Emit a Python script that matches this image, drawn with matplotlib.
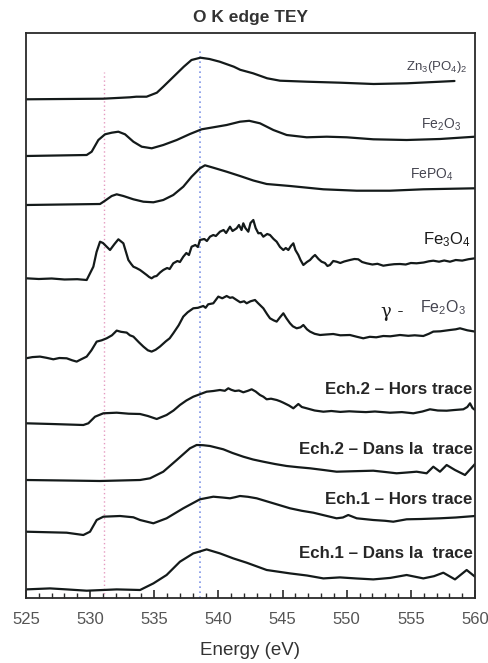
import numpy as np
import matplotlib
matplotlib.use("Agg")
import matplotlib.pyplot as plt

plt.rcParams['font.family'] = ['Liberation Sans', 'DejaVu Sans']
plt.rcParams['mathtext.fontset'] = 'custom'
plt.rcParams['mathtext.rm'] = 'Liberation Sans'
plt.rcParams['mathtext.it'] = 'Liberation Sans:italic'
plt.rcParams['mathtext.bf'] = 'Liberation Sans:bold'

# ---------------- data (energy in eV, intensity in arbitrary units) ----------------
zn_E = [525, 531.0, 533.1, 533.6, 534.4, 535.2, 535.7, 536.5, 537.3, 537.9, 538.6, 539.3,
        540.1, 541.2, 541.7, 542.7, 543.8, 544.8, 546.9, 549.5, 552.1, 554.7, 557.3, 558.4]
zn_I = [0, 0.6, 2, 2.6, 2.6, 6.6, 12.6, 22.6, 32.6, 39.3, 41.6, 40.3,
        37.6, 32.6, 29.5, 26, 21, 18.6, 17.6, 16.6, 15.3, 16, 17.6, 18.3]

fe2o3_E = [525, 529.73, 530.12, 530.64, 531.16, 531.68, 532.2, 532.72, 533.37, 534.02, 534.8,
           535.7, 536.75, 537.78, 538.69, 539.6, 540.64, 541.68, 542.4, 543.24, 544.28,
           545.32, 546.88, 548.44, 550.0, 552.07, 554.67, 557.27, 560]
fe2o3_I = [0, 1, 4.3, 16, 21.7, 23.3, 24.3, 21.7, 14.3, 9.3, 7.7,
           11, 16, 22, 26.7, 28.7, 31, 34.3, 35.2, 32.7, 26,
           21, 18.7, 19.3, 18.7, 16.7, 16, 17, 19.3]

fepo4_E = [525, 530.77, 531.16, 531.68, 532.07, 532.59, 533.37, 534.15, 534.93, 535.7, 536.48,
           537.26, 537.91, 538.56, 538.95, 539.6, 540.64, 541.68, 542.72, 543.76, 545.58,
           548.18, 550.78, 553.37, 555.97, 560]
fepo4_I = [0, 1, 4.3, 9, 10.7, 9, 5.7, 3.3, 2.7, 5, 10,
           18.3, 28.3, 36.7, 39.7, 37.3, 33.3, 29, 24.5, 21, 19,
           15.7, 14.3, 14.3, 15.7, 16.7]

fe3o4_E = [525, 526, 527, 528, 529, 529.73, 530.25, 530.5, 530.77, 531.0, 531.29, 531.55, 531.9,
           532.2, 532.59, 532.98, 533.2, 533.37, 533.6, 533.89, 534.1, 534.41, 534.6, 534.79,
           535.0, 535.18, 535.45, 535.7, 536.0, 536.2, 536.48, 536.8, 537.0, 537.26, 537.5,
           537.7, 537.91, 538.2, 538.4, 538.56, 538.9, 539.1, 539.34, 539.6, 539.8, 540.12,
           540.4, 540.6, 540.9, 541.1, 541.42, 541.6, 541.8, 541.94, 542.1, 542.33, 542.5,
           542.72, 542.9, 543.11, 543.3, 543.5, 543.8, 544.02, 544.3, 544.54, 544.8, 545.06,
           545.25, 545.45, 545.65, 545.84, 546.0, 546.23, 546.4, 546.62, 546.9, 547.14, 547.35,
           547.53, 547.8, 548.04, 548.3, 548.5, 548.69, 548.95, 549.21, 549.5, 549.8, 550.25,
           550.6, 550.9, 551.2, 551.55, 552.0, 552.4, 552.85, 553.3, 553.7, 554.15, 554.6,
           555.0, 555.45, 556.0, 556.4, 556.75, 557.2, 557.6, 558.05, 558.5, 559.0, 559.5, 560]
fe3o4_I = [1.7, 1.0, 1.5, 0.5, 0.8, 0, 13.3, 28, 38.3, 37, 33.3, 30, 36,
           40.7, 36.7, 20, 16, 13.3, 12, 10, 8, 5, 3, 1.7,
           3.5, 4, 7.5, 10, 12, 11, 16.7, 19, 18, 23.3, 27,
           25, 33.3, 35, 33, 40, 41, 39, 43.3, 45, 44, 48.3,
           50, 47, 53.3, 49, 51.7, 55, 50, 56.7, 52, 48.3, 57,
           60, 52, 46.7, 47, 43.3, 46, 45, 41, 38.3, 33, 30,
           32, 30, 34, 36.7, 30, 25, 20, 15, 18, 20, 23,
           25, 21, 18.3, 17, 14, 15, 19, 18.3, 17, 18.5, 20,
           21, 20.7, 18, 16.7, 15.5, 16.2, 14.3, 15.2, 15.8, 16, 15.5,
           17, 16.7, 17.5, 18.7, 19.3, 18.3, 19.5, 18.3, 20, 19.4, 20.8, 21.7]

gfe2o3_E = [525, 525.5, 526.09, 526.6, 527.13, 527.6, 528.17, 528.6, 528.95, 529.3, 529.73,
            530.1, 530.51, 530.9, 531.29, 531.7, 532.07, 532.4, 532.85, 533.1, 533.37, 533.8,
            534.15, 534.5, 534.79, 535.1, 535.44, 535.9, 536.2, 536.48, 536.9, 537.26, 537.6,
            538.04, 538.4, 538.82, 539.0, 539.2, 539.6, 539.99, 540.3, 540.64, 540.9, 541.1,
            541.42, 541.7, 542.0, 542.2, 542.5, 542.85, 543.1, 543.5, 543.8, 544.02, 544.3,
            544.54, 544.8, 545.06, 545.3, 545.58, 545.8, 546.1, 546.4, 546.62, 546.9, 547.14,
            547.5, 547.92, 548.4, 548.95, 549.5, 550.25, 550.8, 551.29, 551.8, 552.3, 552.85,
            553.4, 554.15, 554.8, 555.3, 555.97, 556.4, 556.75, 557.3, 558.05, 558.5, 558.83,
            559.4, 560]
gfe2o3_I = [0, 1.2, 1.7, 0.5, -1, 0.3, 0, -2, -3.3, -1, 1.7,
            8, 16.7, 18, 20, 23, 27.7, 26.5, 25.7, 23, 21.7, 16,
            11.7, 8, 6.7, 8.5, 11.7, 17, 20, 25, 33, 41.7, 46,
            50, 50.5, 52.3, 50.5, 54, 55, 61.7, 60, 62.3, 60.5, 61,
            58.3, 56, 57, 55, 57, 58.3, 55, 50, 44, 40, 38,
            36.7, 41, 45, 40, 35, 32, 30, 31, 33.3, 29, 26.7,
            24.5, 23.3, 23.8, 24.3, 23, 23.3, 21.5, 20, 21.5, 21, 22.3,
            22, 23.3, 22.5, 23, 22.3, 24.5, 26.7, 27, 28.3, 29, 30,
            28, 26.7]

e2h_E = [525, 527, 529.47, 529.86, 530.38, 531.03, 532.07, 533.0, 533.89, 534.5, 535.19,
         535.96, 536.5, 537.0, 537.5, 538.04, 538.5, 539.08, 539.6, 540.12, 540.5, 540.77,
         541.0, 541.29, 541.6, 541.94, 542.3, 542.59, 542.9, 543.24, 543.5, 543.76, 544.1,
         544.54, 544.8, 545.06, 545.5, 545.84, 546.23, 546.5, 546.88, 547.5, 548.18, 548.8,
         549.5, 550.2, 550.78, 551.5, 552.2, 553.37, 554.3, 555.19, 555.9, 556.49, 557.1,
         557.79, 558.4, 559.09, 559.4, 559.61, 559.8, 560]
e2h_I = [1.7, 1.0, 0, 1.7, 8.3, 11.7, 12.3, 11.3, 11, 9, 6,
         10, 14.5, 20, 24.5, 28.3, 30.5, 33.3, 34, 35, 34.2, 36.7,
         35.2, 34, 34.5, 32.7, 34.2, 35.7, 33.5, 30, 28.3, 25.7, 26.3,
         25, 23.8, 22.3, 19.5, 16.7, 21, 18, 16.7, 14.5, 13.3, 14,
         13.1, 13.7, 13.3, 12.9, 13.5, 12.3, 12.9, 11.7, 13.5, 15.7, 14.5,
         14.3, 15, 15.7, 18, 21.7, 17, 15]

e2d_E = [525, 528, 530.77, 533.89, 534.67, 535.7, 536.75, 537.78, 538.3, 538.8, 539.34,
         540.38, 541.1, 541.94, 542.7, 543.5, 544.4, 545.32, 546.2, 547.14, 548.2, 549.21,
         550.6, 552.07, 553.0, 553.89, 554.7, 555.45, 556.23, 556.75, 557.27, 557.79, 558.44,
         559.22, 560]
e2d_I = [1, 0.5, 0, 1, 2.7, 9.3, 21, 32.7, 36, 35.8, 35,
         31.7, 28, 24.3, 21.5, 19.3, 17, 15, 13.8, 12.7, 11, 9.3,
         9.8, 10.3, 9, 7.7, 8.5, 9.3, 7.7, 14.3, 9.3, 16, 11,
         6, 17]

e1h_E = [525, 528.17, 529.47, 529.99, 530.51, 531.03, 532.33, 533.37, 533.89, 534.93, 535.96,
         537.26, 538.56, 539.6, 540.3, 540.9, 541.3, 541.68, 542.3, 542.98, 544.28, 545.58,
         546.5, 547.4, 548.3, 549.21, 549.7, 550.12, 550.78, 552.07, 553.0, 553.63, 554.67,
         555.8, 557.27, 558.5, 560]
e1h_I = [3.3, 2.3, 0, 3.3, 15, 18.3, 19, 17.7, 15, 11.7, 16.7,
         26.7, 35.7, 38.3, 37.5, 36.7, 37.8, 39, 38.2, 36.7, 31.7, 26.7,
         24.2, 22.3, 19.5, 16.7, 17.5, 20, 16.7, 15, 14.2, 13.3, 15.7,
         16, 16.7, 17.5, 19]

e1d_E = [525, 526.87, 528.17, 529.73, 532.07, 533.0, 533.89, 534.93, 535.96, 537.0, 538.04,
         539.08, 540.12, 541.16, 542.2, 543.76, 545.58, 546.9, 548.18, 549.47, 550.8, 552.07,
         553.4, 554.67, 555.97, 556.8, 557.53, 558.44, 559.35, 560]
e1d_I = [1.3, 2.3, 1.3, 0, 1.3, 1.0, 0.7, 7.3, 15.7, 29, 37.3,
         41.3, 37.3, 32.3, 28, 20.7, 17.3, 15.2, 12.3, 13.3, 12.2, 11.3,
         12.8, 15.7, 12.3, 14.5, 18, 11.3, 20.7, 14]

series = [
    (zn_E, zn_I), (fe2o3_E, fe2o3_I), (fepo4_E, fepo4_I), (fe3o4_E, fe3o4_I),
    (gfe2o3_E, gfe2o3_I), (e2h_E, e2h_I), (e2d_E, e2d_I), (e1h_E, e1h_I), (e1d_E, e1d_I),
]
offsets = [498.7, 442, 393, 318, 239.7, 173, 117, 63, 7.3]

xticks = [525, 530, 535, 540, 545, 550, 555, 560]
ref_lines = [531.1, 538.6]

# ---------------- figure ----------------
W, H = 489, 663
fig = plt.figure(figsize=(W / 100, H / 100), dpi=100)
ax = fig.add_axes([26 / W, (H - 598) / H, (475 - 26) / W, (598 - 33) / H])
ax.set_xlim(525, 560)
ax.set_ylim(0, 565)

# reference dotted lines
ax.vlines(ref_lines[0], 0, 526, colors='#e59ac0', linestyles=(0, (1, 2)), linewidth=1.0)
ax.vlines(ref_lines[1], 0, 550, colors='#7f95e6', linestyles=(0, (1, 2)), linewidth=1.2)

for (E, I), off in zip(series, offsets):
    ax.plot(E, np.asarray(I) + off, color='#141a1a', linewidth=1.6,
            solid_joinstyle='round', solid_capstyle='round')

# labels
c_small = '#454550'
ax.text(559.4, 531, r'Zn$_3$(PO$_4$)$_2$', ha='right', va='center', fontsize=9.5, color=c_small)
ax.text(558.9, 473, r'Fe$_2$O$_3$', ha='right', va='center', fontsize=10, color=c_small)
ax.text(558.3, 423, r'FePO$_4$', ha='right', va='center', fontsize=10, color=c_small)
ax.text(559.7, 358, r'Fe$_3$O$_4$', ha='right', va='center', fontsize=12, color='#1a1a1a')
ax.text(552.7, 286, '\u03b3 -', ha='left', va='center', fontsize=13, color='#1a1a1a',
        family=['DejaVu Serif'])
ax.text(559.3, 290, r'Fe$_2$O$_3$', ha='right', va='center', fontsize=11.5, color=c_small)

lab_kw = dict(ha='right', va='center', fontsize=12.2, fontweight='bold', color='#262626')
ax.text(559.8, 208, 'Ech.2 \u2013 Hors trace', **lab_kw)
ax.text(559.8, 148, 'Ech.2 \u2013 Dans la  trace', **lab_kw)
ax.text(559.8, 99, 'Ech.1 \u2013 Hors trace', **lab_kw)
ax.text(559.8, 44, 'Ech.1 \u2013 Dans la  trace', **lab_kw)

# axes styling
for s in ax.spines.values():
    s.set_color('#2a2a2a')
    s.set_linewidth(1.3)
ax.set_yticks([])
ax.set_xticks(xticks)
ax.set_xticks(np.arange(525, 561, 1), minor=True)
ax.tick_params(axis='x', which='major', direction='in', length=6, width=1.2,
               labelsize=12, labelcolor='#555555', color='#2a2a2a', pad=10)
ax.tick_params(axis='x', which='minor', direction='in', length=3.5, width=1.0, color='#2a2a2a')

ax.set_xlabel('Energy (eV)', fontsize=13.5, color='#333333', labelpad=11)
ax.set_title('O K edge TEY', fontsize=12.5, fontweight='bold', color='#333333', pad=8)

fig.savefig('out.png', dpi=100)
